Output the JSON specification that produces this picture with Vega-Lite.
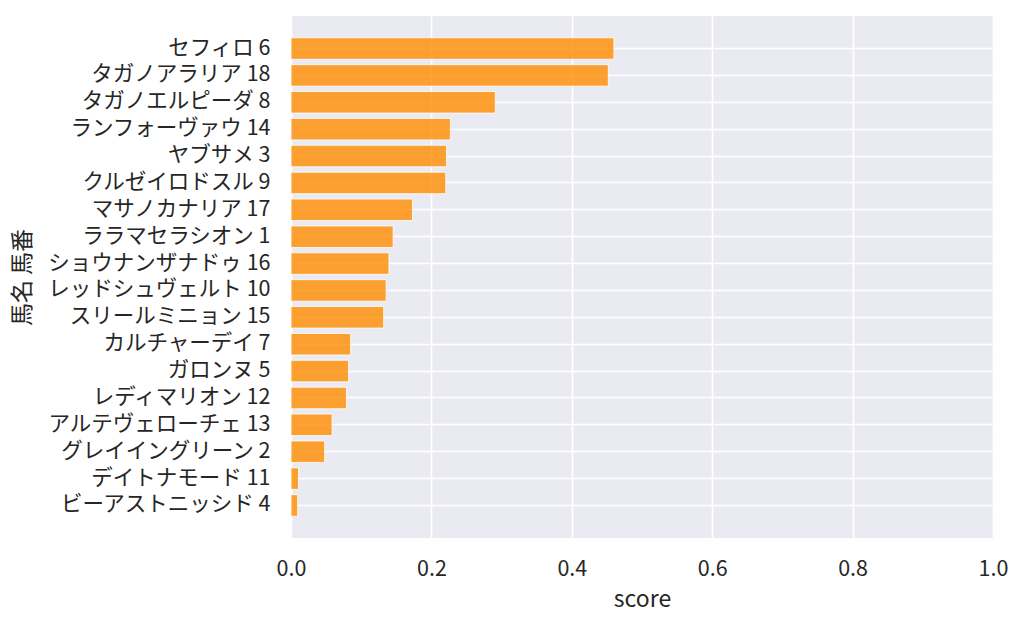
{
  "$schema": "https://vega.github.io/schema/vega-lite/v6.json",
  "autosize": "none",
  "padding": {"left": 291, "top": 16, "right": 31, "bottom": 89},
  "width": 702,
  "height": 522,
  "background": "#FFFFFF",
  "data": {
    "values": [
      {"name": "セフィロ 6", "score": 0.460},
      {"name": "タガノアラリア 18", "score": 0.452},
      {"name": "タガノエルピーダ 8", "score": 0.291},
      {"name": "ランフォーヴァウ 14", "score": 0.227},
      {"name": "ヤブサメ 3", "score": 0.2215},
      {"name": "クルゼイロドスル 9", "score": 0.2205},
      {"name": "マサノカナリア 17", "score": 0.173},
      {"name": "ララマセラシオン 1", "score": 0.1455},
      {"name": "ショウナンザナドゥ 16", "score": 0.1395},
      {"name": "レッドシュヴェルト 10", "score": 0.1355},
      {"name": "スリールミニョン 15", "score": 0.132},
      {"name": "カルチャーデイ 7", "score": 0.085},
      {"name": "ガロンヌ 5", "score": 0.082},
      {"name": "レディマリオン 12", "score": 0.079},
      {"name": "アルテヴェローチェ 13", "score": 0.0585},
      {"name": "グレイイングリーン 2", "score": 0.048},
      {"name": "デイトナモード 11", "score": 0.0107},
      {"name": "ビーアストニッシド 4", "score": 0.0095}
    ]
  },
  "config": {
    "font": "Noto Sans CJK JP",
    "view": {"fill": "#EAEAF2", "stroke": null},
    "axis": {
      "domain": false,
      "ticks": false,
      "tickSize": 0,
      "grid": true,
      "gridColor": "#FFFFFF",
      "gridWidth": 1.6,
      "labelColor": "#262626",
      "titleColor": "#262626",
      "labelFont": "Noto Sans CJK JP",
      "titleFont": "Noto Sans CJK JP",
      "labelFontSize": 21.5,
      "labelLimit": 0,
      "labelFlush": false,
      "titleFontSize": 23,
      "titleFontWeight": "normal"
    }
  },
  "mark": {
    "type": "bar",
    "fill": "#FF8C00",
    "fillOpacity": 0.8,
    "stroke": "#FFFFFF",
    "strokeOpacity": 0.8,
    "strokeWidth": 1
  },
  "encoding": {
    "x": {
      "field": "score",
      "type": "quantitative",
      "scale": {"domain": [0, 1], "nice": false, "zero": true},
      "axis": {
        "values": [0, 0.2, 0.4, 0.6, 0.8, 1.0],
        "format": ".1f",
        "labelPadding": 20,
        "title": "score",
        "titleFontSize": 23,
        "titleBaseline": "middle",
        "titleY": 61
      }
    },
    "y": {
      "field": "name",
      "type": "nominal",
      "sort": "-x",
      "scale": {"paddingInner": 0.2, "paddingOuter": 0.81},
      "axis": {
        "bandPosition": 0.5,
        "labelPadding": 21,
        "title": "馬名 馬番",
        "titleAngle": -90,
        "titleBaseline": "middle",
        "titleAlign": "center",
        "titleX": -269,
        "titleY": 261
      }
    }
  }
}
